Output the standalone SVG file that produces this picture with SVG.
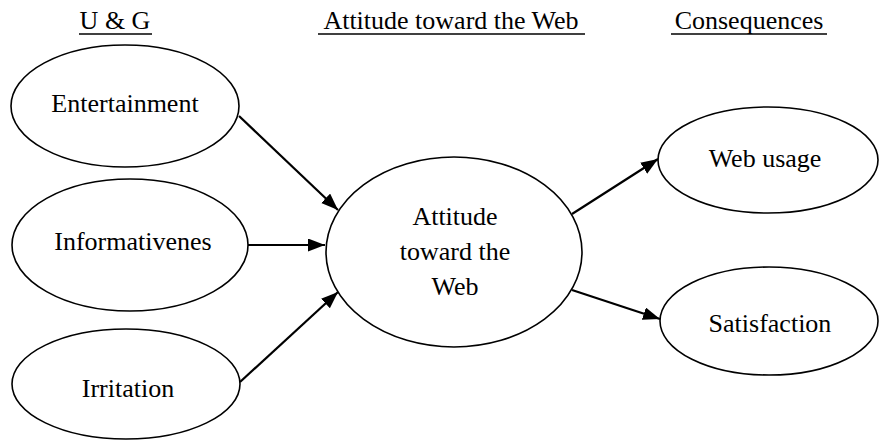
<svg xmlns="http://www.w3.org/2000/svg" width="880" height="441" viewBox="0 0 880 441">
<defs>
<style>
.t{font-family:Liberation Serif, DejaVu Serif, serif;font-size:26px;fill:#000;text-anchor:middle}
.n{fill:#fff;stroke:#000;stroke-width:1.6}
.c{stroke:#000;stroke-width:2.2;fill:none;marker-end:url(#ah)}
.u{stroke:#000;stroke-width:1.5}
</style>
<marker id="ah" markerUnits="userSpaceOnUse" markerWidth="18" markerHeight="14" refX="17" refY="6.5" orient="auto">
<path d="M0,0 L17,6.5 L0,13 z" fill="#000"/>
</marker>
</defs>
<rect width="880" height="441" fill="#fff"/>
<g id="headings">
<text class="t" x="115" y="29" font-family="Liberation Serif, serif">U &amp; G</text>
<line class="u" x1="79" y1="34" x2="152" y2="34"/>
<text class="t" x="451" y="29" font-family="Liberation Serif, serif">Attitude toward the Web</text>
<line class="u" x1="318" y1="34" x2="585" y2="34"/>
<text class="t" x="749" y="29" font-family="Liberation Serif, serif">Consequences</text>
<line class="u" x1="671" y1="34" x2="827" y2="34"/>
</g>
<g id="entertainment">
<ellipse class="n" cx="125" cy="106" rx="114" ry="61"/>
<text class="t" x="125" y="112" font-family="Liberation Serif, serif">Entertainment</text>
</g>
<g id="informativenes">
<ellipse class="n" cx="130" cy="245" rx="118" ry="66"/>
<text class="t" x="133" y="250" font-family="Liberation Serif, serif">Informativenes</text>
</g>
<g id="irritation">
<ellipse class="n" cx="126" cy="384" rx="114" ry="55"/>
<text class="t" x="128" y="397" font-family="Liberation Serif, serif">Irritation</text>
</g>
<g id="attitude">
<ellipse class="n" cx="454" cy="252" rx="128" ry="95"/>
<text class="t" x="455" y="225" font-family="Liberation Serif, serif">Attitude</text>
<text class="t" x="455" y="260" font-family="Liberation Serif, serif">toward the</text>
<text class="t" x="455" y="295" font-family="Liberation Serif, serif">Web</text>
</g>
<g id="webusage">
<ellipse class="n" cx="768" cy="160" rx="110" ry="53"/>
<text class="t" x="765" y="167" font-family="Liberation Serif, serif">Web usage</text>
</g>
<g id="satisfaction">
<ellipse class="n" cx="769" cy="321" rx="109" ry="54"/>
<text class="t" x="770" y="332" font-family="Liberation Serif, serif">Satisfaction</text>
</g>
<g id="connectors">
<line class="c" x1="239" y1="116" x2="338" y2="210"/>
<line class="c" x1="248" y1="245" x2="325" y2="245"/>
<line class="c" x1="240" y1="382" x2="338" y2="292"/>
<line class="c" x1="572" y1="214" x2="658" y2="159"/>
<line class="c" x1="572" y1="290" x2="660" y2="319"/>
</g>
</svg>
